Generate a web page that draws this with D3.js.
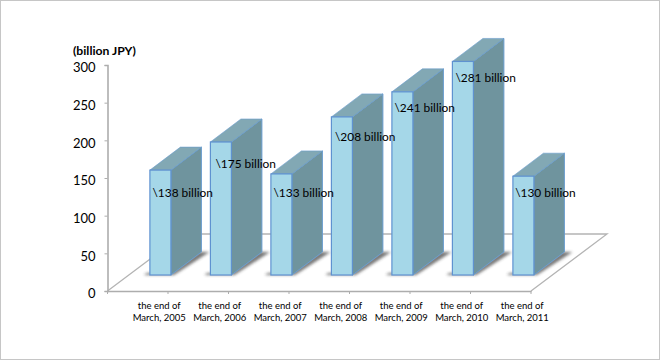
<!DOCTYPE html>
<html><head><meta charset="utf-8">
<script src="https://cdn.jsdelivr.net/npm/d3@7/dist/d3.min.js"></script>
<style>html,body{margin:0;padding:0;background:#fff}svg{display:block}text{font-family:Lato,"Open Sans",sans-serif;fill:#000}</style>
</head><body><div id="chart"></div>
<script>
const categories=["March, 2005","March, 2006","March, 2007","March, 2008","March, 2009","March, 2010","March, 2011"];
const categoryPrefix="the end of";
const values=[138,175,133,208,241,281,130];
const labels=["\\138 billion","\\175 billion","\\133 billion","\\208 billion","\\241 billion","\\281 billion","\\130 billion"];
const yTicks=[0,50,100,150,200,250,300];
const unitLabel="(billion JPY)";

const W=660,H=360;
const svg=d3.select("#chart").append("svg").attr("width",W).attr("height",H);
const defs=svg.append("defs");
defs.append("filter").attr("id","sh").attr("x","-30%").attr("y","-60%").attr("width","160%").attr("height","220%")
  .append("feGaussianBlur").attr("stdDeviation",1.8);

svg.append("rect").attr("x",0.5).attr("y",0.5).attr("width",W-1).attr("height",H-1).attr("fill","#fff").attr("stroke","#c6c6c6");

const floorY=291,floorL=107.5,floorR=531,depthX=76,depthY=57;
const y=d3.scaleLinear().domain([0,300]).range([floorY,65]);
const x=d3.scaleBand().domain(categories).range([floorL,floorR]);
const barH=d3.scaleLinear().domain([0,300]).range([0,228]);
const barOffX=42.4,barW=21,sideX=30.5,sideY=23,barBase=275;
const axisCol="#adadad";
// hand placement of the data labels relative to each bar's top-left corner
const labelDx=[2.6,5.1,2.6,3.6,2.6,3,2.3];
const labelDy=[27,25.5,23.5,24.5,20.5,20.5,20.5];

// floor
svg.append("path").attr("fill","none").attr("stroke","#b4b4b4").attr("stroke-width",1.3)
  .attr("d",`M${floorL},${floorY}L${floorL+depthX},${floorY-depthY}L${floorR+depthX},${floorY-depthY}L${floorR},${floorY}`);

// y axis
const gy=svg.append("g").attr("transform",`translate(${floorL},0)`).call(d3.axisLeft(y).tickValues(yTicks).tickSize(3).tickPadding(9));
gy.select(".domain").attr("stroke",axisCol).attr("stroke-width",1.6);
gy.selectAll(".tick line").attr("stroke",axisCol);
gy.selectAll("text").style("font-size","13px").style("font-family","Lato").attr("dy","0.52em");
// x axis
const gx=svg.append("g").attr("transform",`translate(0,${floorY})`).call(d3.axisBottom(x).tickValues([]).tickSizeOuter(0));
gx.select(".domain").attr("stroke",axisCol).attr("stroke-width",1.6);
const tickPos=categories.map(c=>x(c)).concat([floorR]);
gx.selectAll("line.t").data(tickPos).join("line").attr("class","t").attr("x1",d=>d).attr("x2",d=>d).attr("y1",0).attr("y2",3).attr("stroke",axisCol);
const xl=svg.append("g").selectAll("text").data(categories).join("text")
  .attr("text-anchor","middle").attr("font-size","9.5px")
  .attr("transform",c=>`translate(${x(c)+x.bandwidth()/2+21.5},0)`);
xl.append("tspan").attr("x",0).attr("y",309).text(categoryPrefix);
xl.append("tspan").attr("x",0).attr("y",321).text(c=>c);

// bars
const bars=svg.append("g").selectAll("g").data(values).join("g")
  .attr("transform",(d,i)=>`translate(${x(categories[i])+barOffX},${barBase})`);
bars.append("path").attr("fill","#3a3a3a").attr("opacity",0.7).attr("filter","url(#sh)")
  .attr("d",`M-6,0L${barW+3},0L${barW+sideX+8},${-sideY}L${barW+sideX-2},${-sideY}L${barW},-2L${-3},-2Z`);
bars.append("path").attr("fill","#6f949e").attr("stroke","#6a9ccf").attr("stroke-width",1)
  .attr("d",d=>`M${barW},0L${barW+sideX},${-sideY}L${barW+sideX},${-barH(d)-sideY}L${barW},${-barH(d)}Z`);
bars.append("path").attr("fill","#82a8b4").attr("stroke","#6a9ccf").attr("stroke-width",0.6)
  .attr("d",d=>`M0,${-barH(d)}L${sideX},${-barH(d)-sideY}L${barW+sideX},${-barH(d)-sideY}L${barW},${-barH(d)}Z`);
bars.append("rect").attr("x",0).attr("width",barW).attr("y",d=>-barH(d)).attr("height",d=>barH(d))
  .attr("fill","#a5d7e8").attr("stroke","#5f92d0").attr("stroke-width",1.2);

// data labels sit above every bar
svg.append("g").selectAll("text").data(values).join("text")
  .attr("x",(d,i)=>x(categories[i])+barOffX+labelDx[i])
  .attr("y",(d,i)=>barBase-barH(d)+labelDy[i])
  .attr("font-size","11.9px").text((d,i)=>labels[i]);

svg.append("text").attr("x",73).attr("y",54.5).attr("font-size","12.2px").attr("font-weight",700).text(unitLabel);
</script></body></html>
